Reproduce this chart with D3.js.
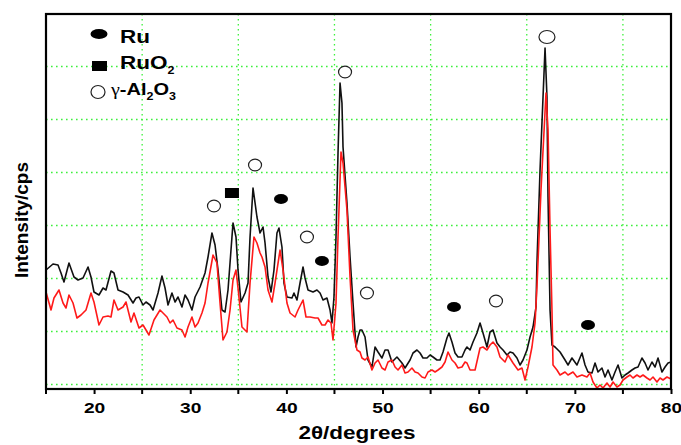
<!DOCTYPE html>
<html>
<head>
<meta charset="utf-8">
<script src="https://cdn.jsdelivr.net/npm/d3@7"></script>
<style>
  html, body { margin: 0; padding: 0; background: #fff; }
  svg { display: block; }
  text { font-family: "Liberation Sans", Arial, Helvetica, sans-serif; font-weight: bold; fill: #000; }
</style>
</head>
<body>
<script>
// ---------- DATA ----------
const blackTheta = [15.00,15.73,16.25,16.56,16.87,17.39,17.91,18.33,18.85,19.37,19.68,19.99,20.51,20.93,21.24,21.76,22.07,22.49,23.01,23.53,24.05,24.36,24.67,25.09,25.40,25.82,26.13,26.65,27.06,27.38,27.69,28.10,28.42,28.73,29.14,29.46,29.77,30.18,30.50,31.02,31.54,31.85,32.26,32.58,32.89,33.30,33.62,33.93,34.34,34.45,34.76,34.97,35.28,35.70,36.01,36.22,36.53,36.94,37.26,37.57,37.78,38.09,38.40,38.71,39.02,39.23,39.54,39.75,40.06,40.58,40.79,41.10,41.42,41.73,41.94,42.25,42.77,43.18,43.50,43.81,44.22,44.54,44.74,44.95,45.16,45.37,45.58,45.78,45.89,46.30,46.62,46.93,47.24,47.45,47.66,47.86,48.18,48.49,48.90,49.22,49.53,49.94,50.26,50.57,50.98,51.50,52.02,52.34,52.86,53.17,53.58,53.90,54.21,54.62,54.94,55.25,55.66,55.98,56.29,56.70,56.91,57.22,57.54,57.85,58.26,58.58,58.78,59.10,59.41,59.82,60.14,60.45,60.86,61.18,61.49,61.90,62.22,62.53,62.94,63.26,63.57,63.98,64.30,64.61,65.02,65.34,65.65,65.96,66.06,66.38,66.90,67.10,67.21,67.42,67.62,67.94,68.46,68.98,69.29,69.70,70.22,70.74,71.06,71.37,71.78,72.10,72.41,72.82,73.14,73.45,73.86,74.18,74.49,74.90,75.22,75.53,75.94,76.26,76.57,76.98,77.30,77.61,78.02,78.34,78.65,79.06,79.38,79.69,80.00];
const blackCounts = [238,250,248,232,214,252,224,218,222,244,224,194,188,202,198,236,232,198,194,188,172,182,184,168,174,168,158,192,226,202,168,192,174,184,164,188,178,158,184,204,232,264,312,288,238,158,154,198,304,332,304,238,174,192,212,304,402,344,312,324,292,224,194,238,312,322,284,212,184,182,192,178,212,244,222,198,194,198,192,178,182,158,132,184,304,472,612,572,484,372,264,172,84,104,118,118,104,58,44,84,74,62,78,78,54,64,52,42,58,72,78,72,62,62,68,64,58,58,74,102,112,94,72,64,64,78,84,78,94,112,132,112,84,114,118,92,84,78,68,74,72,62,48,58,78,104,124,164,252,438,682,584,384,158,88,84,74,58,48,62,48,72,48,34,32,52,34,42,24,38,18,34,48,22,28,32,38,42,44,62,52,38,54,44,62,34,44,52,54];

const redTheta = [15.00,15.52,15.83,16.35,16.77,17.08,17.39,17.81,18.22,18.64,19.16,19.68,19.99,20.51,20.93,21.45,21.76,22.07,22.49,23.01,23.32,23.84,24.15,24.67,25.09,25.71,26.23,26.86,27.17,27.58,27.90,28.21,28.62,29.14,29.46,29.77,30.18,30.50,30.81,31.22,31.54,31.85,32.37,32.78,33.10,33.41,33.82,34.14,34.45,34.76,34.97,35.38,35.90,36.22,36.63,36.94,37.26,37.46,37.78,38.09,38.50,38.82,39.34,39.65,40.06,40.38,40.90,41.21,41.73,42.04,42.46,42.98,43.29,43.70,44.02,44.33,44.64,44.85,45.16,45.37,45.68,45.89,46.30,46.62,46.93,47.34,47.66,47.86,48.18,48.49,48.90,49.22,49.53,49.94,50.26,50.57,50.98,51.30,51.61,52.02,52.34,52.65,53.06,53.38,53.69,54.10,54.42,54.73,55.14,55.46,55.77,56.18,56.50,56.81,57.22,57.54,57.85,58.26,58.58,58.78,59.10,59.62,60.14,60.45,60.86,61.18,61.49,61.90,62.22,62.74,63.05,63.57,64.09,64.50,64.82,65.13,65.54,65.86,66.06,66.48,67.00,67.21,67.42,67.62,67.73,68.14,68.46,68.98,69.29,69.81,70.22,70.74,71.26,71.58,71.89,72.30,72.62,72.93,73.34,73.66,73.97,74.38,74.70,75.01,75.42,75.74,76.05,76.46,76.78,77.09,77.50,77.82,78.13,78.54,78.86,79.17,79.58,80.00];
const redCounts = [194,158,182,198,172,162,188,172,142,148,158,192,174,128,144,146,144,178,158,164,174,134,152,122,128,108,138,158,152,144,132,138,122,118,104,124,144,124,132,152,172,212,268,252,172,98,114,158,218,238,202,124,114,212,304,292,272,264,244,198,174,212,278,238,172,152,144,158,178,144,144,142,142,128,128,138,132,98,172,304,474,452,358,224,118,78,74,62,58,64,38,52,58,42,38,54,58,44,38,48,32,34,42,34,32,24,22,34,38,34,38,44,54,74,58,52,42,44,54,52,38,38,82,84,78,88,94,84,64,54,68,52,38,42,18,44,84,132,204,398,592,518,318,158,48,38,28,34,28,34,24,28,24,32,14,2,8,2,12,4,14,4,8,18,24,28,22,28,24,28,22,18,24,14,22,18,24,20];

// phase markers (2θ, intensity position)
const ruTheta = [39.44, 43.70, 57.43, 71.37];
const ruCounts = [380, 256, 164, 128];
const ruo2Theta = [34.34];
const ruo2Counts = [392];
const aluTheta = [32.47, 36.74, 42.14, 46.10, 48.38, 61.80, 67.10];
const aluCounts = [366, 448, 304, 634, 192, 176, 704];

const xTicks = [20, 30, 40, 50, 60, 70, 80];
const xMinorTicks = [15, 25, 35, 45, 55, 65, 75];
const xGrid = [25, 35, 45, 55, 65, 75];
const yGrid = [9, 115, 221, 327, 433, 539, 645];

// ---------- CHART ----------
const W = 681, H = 445;
const L = 46, R = 671, T = 14, B = 389;
const svg = d3.select("body").append("svg").attr("width", W).attr("height", H);

const x = d3.scaleLinear().domain([15, 80]).range([L, R]);
const y = d3.scaleLinear().domain([0, 750]).range([B, T]);

// grid
const gridColor = "#3cf03c";
svg.append("g").selectAll("line").data(xGrid).join("line")
  .attr("x1", d => x(d)).attr("x2", d => x(d)).attr("y1", T).attr("y2", B)
  .attr("stroke", gridColor).attr("stroke-width", 1.3).attr("stroke-dasharray", "1.6,3.4");
svg.append("g").selectAll("line").data(yGrid).join("line")
  .attr("x1", L).attr("x2", R).attr("y1", d => y(d)).attr("y2", d => y(d))
  .attr("stroke", gridColor).attr("stroke-width", 1.3).attr("stroke-dasharray", "1.6,3.4");

// lines
const line = d3.line().x(d => x(d[0])).y(d => y(d[1]));
const blackData = blackTheta.map((t, i) => [t, blackCounts[i]]);
const redData = redTheta.map((t, i) => [t, redCounts[i]]);
svg.append("path").datum(blackData).attr("d", line)
  .attr("fill", "none").attr("stroke", "#111").attr("stroke-width", 1.6).attr("stroke-linejoin", "round");
svg.append("path").datum(redData).attr("d", line)
  .attr("fill", "none").attr("stroke", "#ff1a1a").attr("stroke-width", 1.6).attr("stroke-linejoin", "round");

// frame
svg.append("rect").attr("x", L).attr("y", T).attr("width", R - L).attr("height", B - T)
  .attr("fill", "none").attr("stroke", "#000").attr("stroke-width", 2.2);

// x axis
const xAxis = d3.axisBottom(x).tickValues(xTicks).tickSize(5).tickFormat(d3.format("d"));
const gx = svg.append("g").attr("transform", `translate(0,${B})`).call(xAxis);
gx.select(".domain").remove();
gx.selectAll(".tick line").attr("stroke", "#000").attr("stroke-width", 2);
gx.selectAll(".tick text").attr("y", 24).attr("dy", 0)
  .attr("font-size", 15).attr("font-weight", "bold")
  .attr("font-family", "'Liberation Sans', Arial, sans-serif")
  .attr("transform", "scale(1.28,1)").attr("fill", "#000");
svg.append("g").selectAll("line").data(xMinorTicks).join("line")
  .attr("x1", d => x(d)).attr("x2", d => x(d)).attr("y1", B).attr("y2", B + 5)
  .attr("stroke", "#000").attr("stroke-width", 2);

// axis titles
svg.append("g").attr("transform", "translate(357,439) scale(1.25,1)")
  .append("text").attr("text-anchor", "middle").attr("font-size", 18).text("2θ/degrees");
svg.append("text").attr("transform", "translate(28,220) rotate(-90)")
  .attr("text-anchor", "middle").attr("font-size", 18)
  .attr("textLength", 116).attr("lengthAdjust", "spacingAndGlyphs").text("Intensity/cps");

// phase markers
svg.append("g").selectAll("ellipse").data(ruTheta.map((t, i) => [t, ruCounts[i]])).join("ellipse")
  .attr("cx", d => x(d[0])).attr("cy", d => y(d[1])).attr("rx", 7).attr("ry", 5).attr("fill", "#000");
svg.append("g").selectAll("rect").data(ruo2Theta.map((t, i) => [t, ruo2Counts[i]])).join("rect")
  .attr("x", d => x(d[0]) - 7).attr("y", d => y(d[1]) - 5).attr("width", 14).attr("height", 10).attr("fill", "#000");
svg.append("g").selectAll("ellipse").data(aluTheta.map((t, i) => [t, aluCounts[i]])).join("ellipse")
  .attr("cx", d => x(d[0])).attr("cy", d => y(d[1]))
  .attr("rx", d => d[1] > 650 ? 8 : 6.5).attr("ry", d => d[1] > 650 ? 6.5 : 5.8)
  .attr("fill", "#fff").attr("stroke", "#222").attr("stroke-width", 1.2);

// legend
const lg = svg.append("g");
lg.append("ellipse").attr("cx", 99).attr("cy", 34).attr("rx", 8.5).attr("ry", 5).attr("fill", "#000");
lg.append("rect").attr("x", 92).attr("y", 61).attr("width", 15).attr("height", 10).attr("fill", "#000");
lg.append("ellipse").attr("cx", 98).attr("cy", 92).attr("rx", 7).attr("ry", 6.5)
  .attr("fill", "#fff").attr("stroke", "#222").attr("stroke-width", 1.2);

lg.append("g").attr("transform", "translate(120,43) scale(1.25,1)")
  .append("text").attr("font-size", 18).text("Ru");
const t2 = lg.append("g").attr("transform", "translate(120,69) scale(1.25,1)").append("text").attr("font-size", 18);
t2.append("tspan").text("RuO");
t2.append("tspan").attr("font-size", 10).attr("dy", 5).text("2");
const t3 = lg.append("g").attr("transform", "translate(111,95) scale(1.25,1)").append("text").attr("font-size", 16);
t3.append("tspan").attr("font-family", "'Liberation Serif', 'Times New Roman', serif").attr("font-weight", "normal").text("γ");
t3.append("tspan").text("-Al");
t3.append("tspan").attr("font-size", 10).attr("dy", 5).text("2");
t3.append("tspan").attr("dy", -5).text("O");
t3.append("tspan").attr("font-size", 10).attr("dy", 5).text("3");
</script>
</body>
</html>
